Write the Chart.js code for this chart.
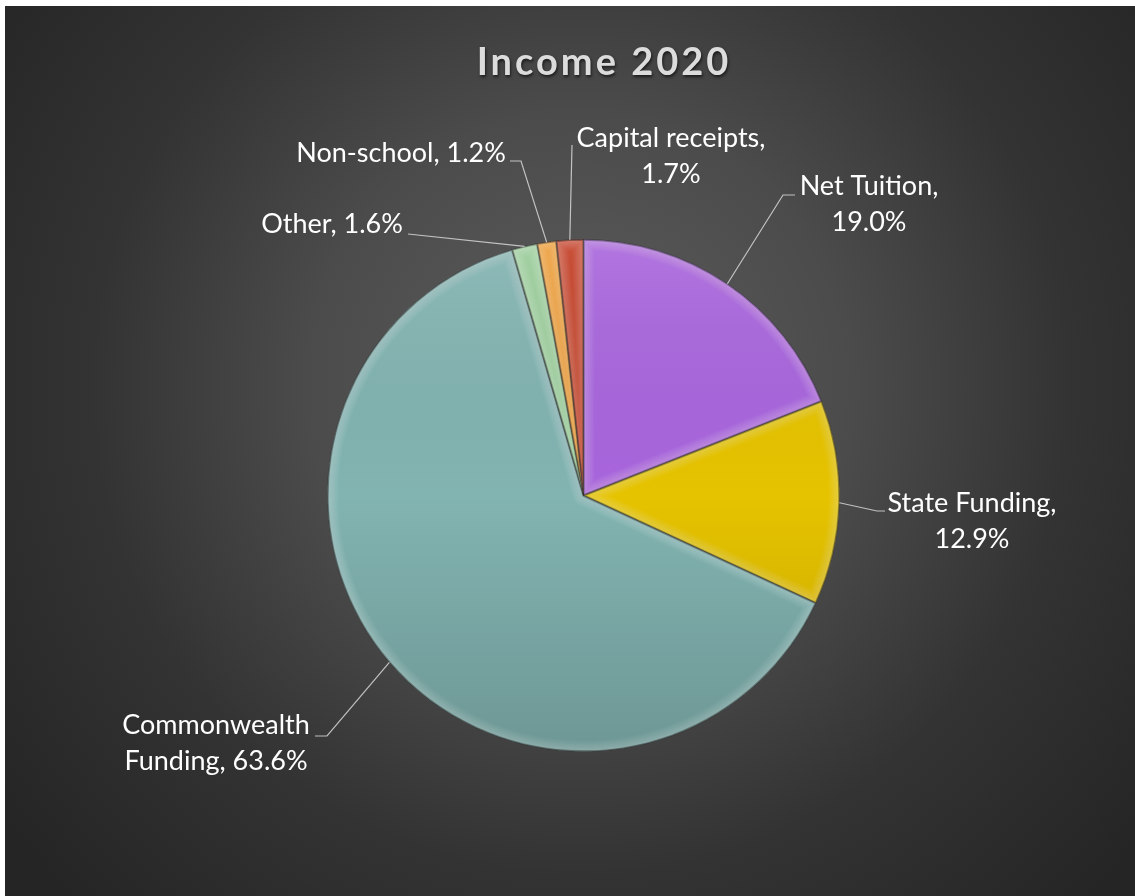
<!DOCTYPE html>
<html>
<head>
<meta charset="utf-8">
<title>Income 2020</title>
<script src="https://cdn.jsdelivr.net/npm/chart.js@4/dist/chart.umd.min.js"></script>
<style>
  html, body { margin: 0; padding: 0; background: #ffffff; }
  #wrap { position: absolute; left: 5px; top: 6px; width: 1130px; height: 890px; }
  canvas { display: block; }
</style>
</head>
<body>
<div id="wrap"><canvas id="income" width="1130" height="890"></canvas></div>
<script>
// Income sources, 2020 (share of total, %)
const categories = ['Net Tuition', 'State Funding', 'Commonwealth Funding', 'Other', 'Non-school', 'Capital receipts'];
const shares = [19.0, 12.9, 63.6, 1.6, 1.2, 1.7];
const sliceColors = ['#a966dd', '#e6c300', '#82b4b1', '#99cc99', '#ee9a30', '#c43e24'];
const chartTitle = 'Income 2020';

// Where each data label sits and where its leader line bends.
// words: how many words go on the first line (0 = single line).
const labelLayout = [
  { cx: 864, base: 189, words: 2, elbow: [778, 189], end: [790, 189] },
  { cx: 967, base: 506, words: 2, elbow: [872, 505], end: [880, 505] },
  { cx: 211, base: 728, words: 1, elbow: [322, 730], end: [310, 730] },
  { cx: 327, base: 227, words: 0, elbow: [403, 228], end: [403, 228] },
  { cx: 396, base: 156, words: 0, elbow: [516, 155], end: [505, 155] },
  { cx: 666, base: 141, words: 2, elbow: [567, 139], end: [567, 139] }
];
const LABEL_FONT = '27px Lato, "Open Sans", sans-serif';
const LINE_GAP = 35.5;

const background = {
  id: 'background',
  beforeDraw(chart) {
    const { ctx, width, height } = chart;
    const g = ctx.createRadialGradient(575, 380, 0, 575, 380, 720);
    g.addColorStop(0, '#5d5d5d');
    g.addColorStop(0.38, '#4b4b4b');
    g.addColorStop(0.68, '#333333');
    g.addColorStop(1, '#252525');
    ctx.save();
    ctx.fillStyle = g;
    ctx.fillRect(0, 0, width, height);
    ctx.restore();
  }
};

// Soft bevel and top-to-bottom shading on each slice
const bevel = {
  id: 'bevel',
  afterDatasetsDraw(chart) {
    const { ctx } = chart;
    chart.getDatasetMeta(0).data.forEach(arc => {
      const { x, y, startAngle, endAngle, outerRadius: r } = arc.getProps(['x', 'y', 'startAngle', 'endAngle', 'outerRadius'], true);
      ctx.save();
      ctx.beginPath();
      ctx.moveTo(x, y);
      ctx.arc(x, y, r, startAngle, endAngle);
      ctx.closePath();
      ctx.clip();
      const shade = ctx.createLinearGradient(0, y - r, 0, y + r);
      shade.addColorStop(0, 'rgba(255,255,255,0.10)');
      shade.addColorStop(0.5, 'rgba(0,0,0,0)');
      shade.addColorStop(1, 'rgba(0,0,0,0.16)');
      ctx.fillStyle = shade;
      ctx.fillRect(x - r, y - r, 2 * r, 2 * r);
      ctx.lineJoin = 'round';
      // layered strokes give a soft rounded edge
      for (let w = 22; w >= 4; w -= 2) {
        ctx.strokeStyle = 'rgba(255,255,255,0.028)';
        ctx.lineWidth = w;
        ctx.stroke();
      }
      ctx.strokeStyle = 'rgba(0,0,0,0.28)';
      ctx.lineWidth = 2.5;
      ctx.stroke();
      ctx.restore();
    });
  }
};

const labelsAndTitle = {
  id: 'labelsAndTitle',
  afterDraw(chart) {
    const { ctx } = chart;
    const meta = chart.getDatasetMeta(0);
    ctx.save();
    // title
    ctx.font = 'bold 38px Lato, "Open Sans", sans-serif';
    ctx.letterSpacing = '3px';
    ctx.textAlign = 'center';
    ctx.textBaseline = 'alphabetic';
    ctx.shadowColor = 'rgba(0,0,0,0.6)';
    ctx.shadowBlur = 3;
    ctx.shadowOffsetX = 1;
    ctx.shadowOffsetY = 2;
    ctx.fillStyle = '#dcdcdc';
    ctx.fillText(chartTitle, 599, 69);
    ctx.restore();

    meta.data.forEach((arc, i) => {
      const { x, y, startAngle, endAngle, outerRadius: r } = arc.getProps(['x', 'y', 'startAngle', 'endAngle', 'outerRadius'], true);
      const mid = (startAngle + endAngle) / 2;
      const ax = x + Math.cos(mid) * r;
      const ay = y + Math.sin(mid) * r;
      const L = labelLayout[i];
      ctx.save();
      ctx.strokeStyle = 'rgba(215,215,215,0.85)';
      ctx.lineWidth = 1.2;
      ctx.beginPath();
      ctx.moveTo(ax, ay);
      ctx.lineTo(L.elbow[0], L.elbow[1]);
      ctx.lineTo(L.end[0], L.end[1]);
      ctx.stroke();

      const text = categories[i] + ', ' + shares[i].toFixed(1) + '%';
      const words = text.split(' ');
      const lines = L.words > 0
        ? [words.slice(0, L.words).join(' '), words.slice(L.words).join(' ')]
        : [text];
      ctx.font = LABEL_FONT;
      ctx.fillStyle = '#ffffff';
      ctx.textAlign = 'center';
      ctx.textBaseline = 'alphabetic';
      lines.forEach((ln, k) => ctx.fillText(ln, L.cx, L.base + k * LINE_GAP));
      ctx.restore();
    });
  }
};

new Chart(document.getElementById('income'), {
  type: 'pie',
  data: {
    labels: categories,
    datasets: [{
      data: shares,
      backgroundColor: sliceColors,
      borderColor: 'rgba(40,40,40,0.55)',
      borderWidth: 1
    }]
  },
  options: {
    responsive: false,
    devicePixelRatio: 1,
    animation: false,
    layout: { padding: { left: 322, right: 295, top: 233, bottom: 144 } },
    plugins: {
      legend: { display: false },
      title: { display: false },
      tooltip: { enabled: false }
    }
  },
  plugins: [background, bevel, labelsAndTitle]
});
</script>
</body>
</html>
